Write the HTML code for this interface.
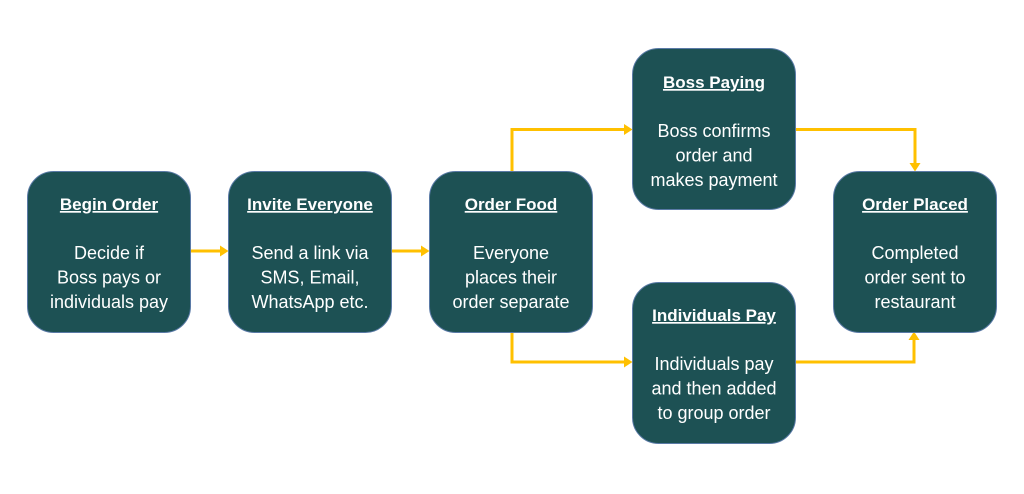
<!DOCTYPE html>
<html>
<head>
<meta charset="utf-8">
<style>
  html, body { margin: 0; padding: 0; background: #ffffff; }
  svg { display: block; }
  .t { font-family: "Liberation Sans", Arial, sans-serif; fill: #ffffff; text-anchor: middle; }
  .h { font-size: 17px; font-weight: bold; text-decoration: underline; }
  .b { font-size: 18px; }
  .box { fill: #1d5154; stroke: #5a7aa6; stroke-width: 1; }
  .ln { fill: none; stroke: #ffc000; stroke-width: 3; }
  .ah { fill: #ffc000; }
</style>
</head>
<body>
<svg width="1024" height="494" viewBox="0 0 1024 494" xmlns="http://www.w3.org/2000/svg">
  <!-- connectors -->
  <path class="ln" d="M190,251 H221"/>
  <polygon class="ah" points="220,245.5 228.5,251 220,256.5"/>
  <path class="ln" d="M392,251 H422"/>
  <polygon class="ah" points="421,245.5 429.5,251 421,256.5"/>
  <path class="ln" d="M512,171 V129.5 H625"/>
  <polygon class="ah" points="624,124 632.5,129.5 624,135"/>
  <path class="ln" d="M795,129.5 H915 V164"/>
  <polygon class="ah" points="909.5,163 915,171.5 920.5,163"/>
  <path class="ln" d="M512,332 V362 H625"/>
  <polygon class="ah" points="624,356.5 632.5,362 624,367.5"/>
  <path class="ln" d="M795,362 H914 V339"/>
  <polygon class="ah" points="908.5,340 914,331.5 919.5,340"/>

  <!-- Begin Order -->
  <rect class="box" x="27.5" y="171.5" width="163" height="161" rx="26" ry="26"/>
  <text class="t h" x="109" y="210">Begin Order</text>
  <text class="t b" x="109" y="259">Decide if</text>
  <text class="t b" x="109" y="283.5">Boss pays or</text>
  <text class="t b" x="109" y="308">individuals pay</text>

  <!-- Invite Everyone -->
  <rect class="box" x="228.5" y="171.5" width="163" height="161" rx="26" ry="26"/>
  <text class="t h" x="310" y="210">Invite Everyone</text>
  <text class="t b" x="310" y="259">Send a link via</text>
  <text class="t b" x="310" y="283.5">SMS, Email,</text>
  <text class="t b" x="310" y="308">WhatsApp etc.</text>

  <!-- Order Food -->
  <rect class="box" x="429.5" y="171.5" width="163" height="161" rx="26" ry="26"/>
  <text class="t h" x="511" y="210">Order Food</text>
  <text class="t b" x="511" y="259">Everyone</text>
  <text class="t b" x="511" y="283.5">places their</text>
  <text class="t b" x="511" y="308">order separate</text>

  <!-- Boss Paying -->
  <rect class="box" x="632.5" y="48.5" width="163" height="161" rx="26" ry="26"/>
  <text class="t h" x="714" y="88">Boss Paying</text>
  <text class="t b" x="714" y="137">Boss confirms</text>
  <text class="t b" x="714" y="161.5">order and</text>
  <text class="t b" x="714" y="186">makes payment</text>

  <!-- Individuals Pay -->
  <rect class="box" x="632.5" y="282.5" width="163" height="161" rx="26" ry="26"/>
  <text class="t h" x="714" y="321">Individuals Pay</text>
  <text class="t b" x="714" y="370">Individuals pay</text>
  <text class="t b" x="714" y="394.5">and then added</text>
  <text class="t b" x="714" y="419">to group order</text>

  <!-- Order Placed -->
  <rect class="box" x="833.5" y="171.5" width="163" height="161" rx="26" ry="26"/>
  <text class="t h" x="915" y="210">Order Placed</text>
  <text class="t b" x="915" y="259">Completed</text>
  <text class="t b" x="915" y="283.5">order sent to</text>
  <text class="t b" x="915" y="308">restaurant</text>
</svg>
</body>
</html>
